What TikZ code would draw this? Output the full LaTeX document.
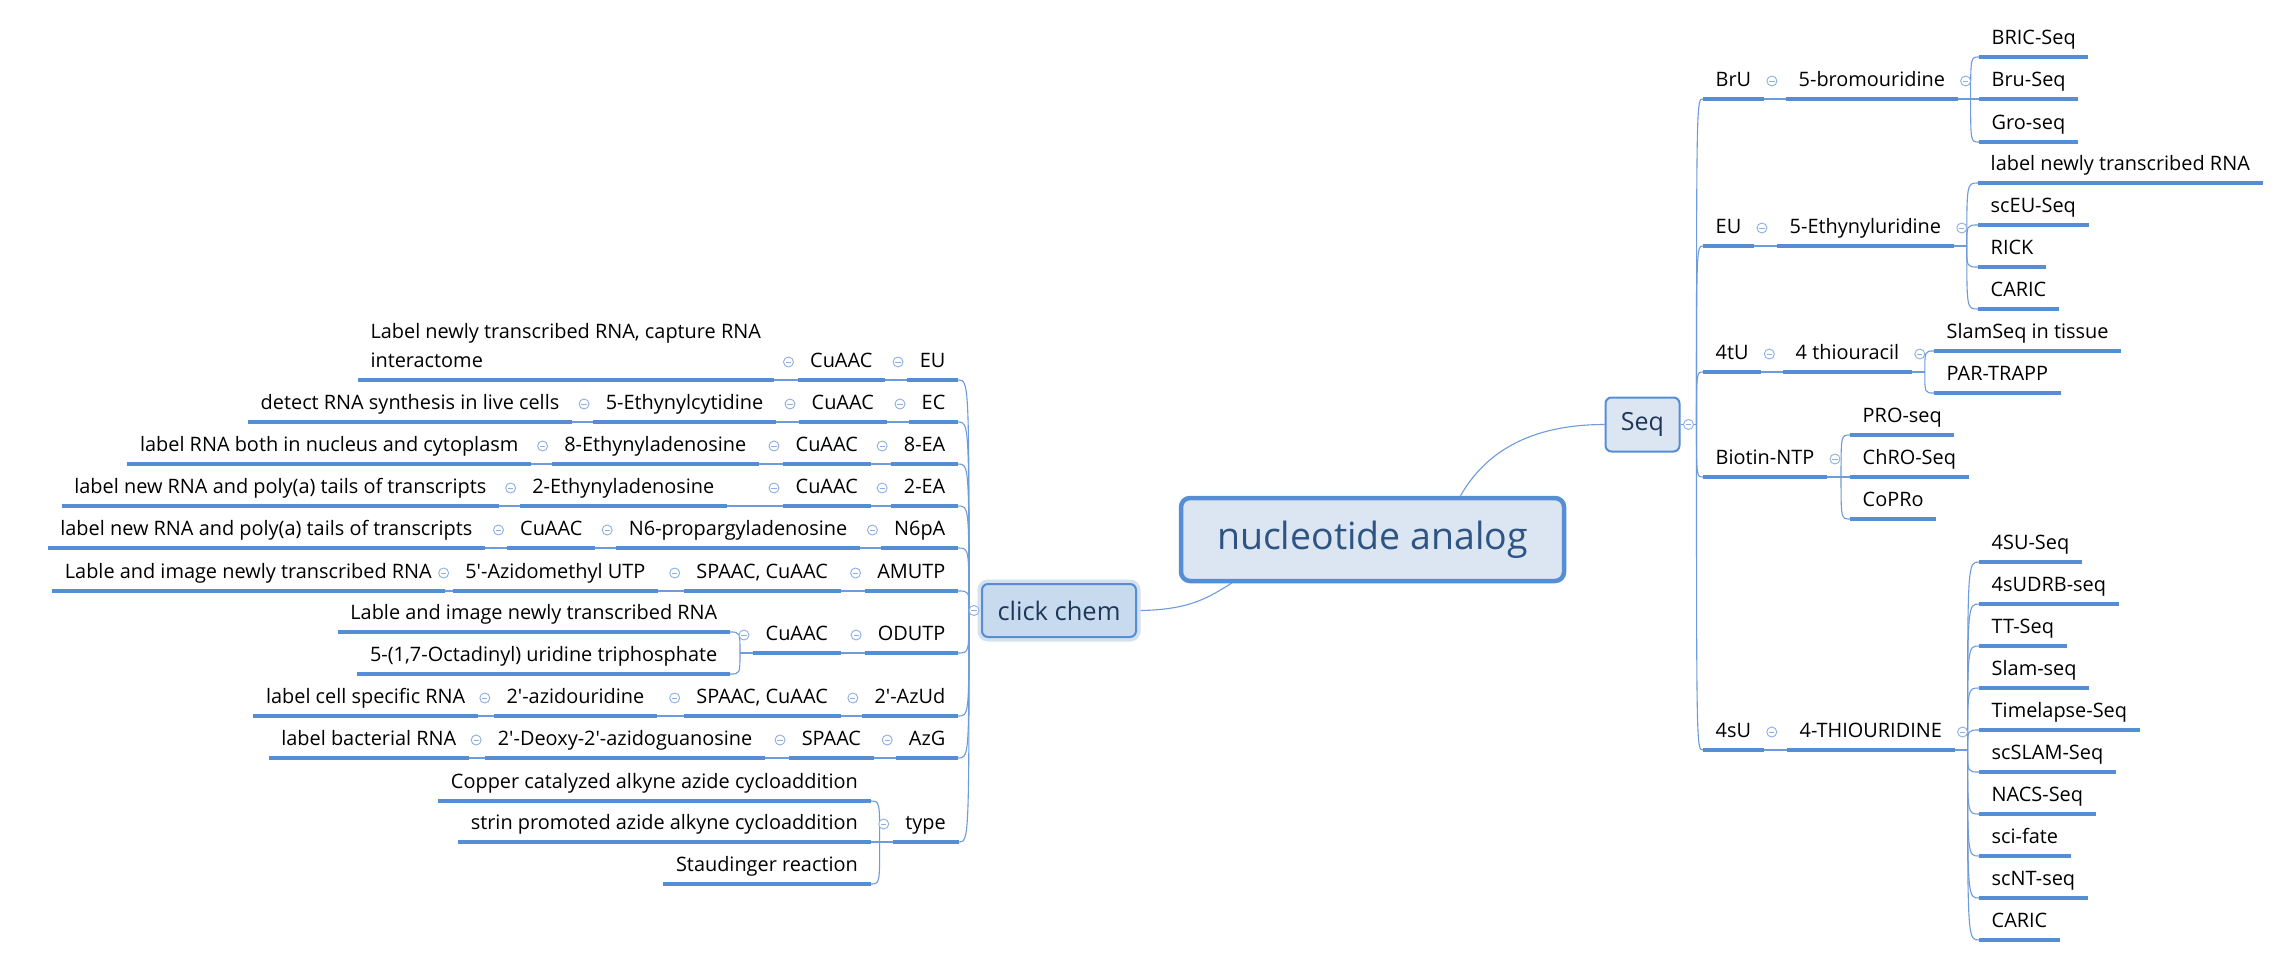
\documentclass[tikz,border=0pt]{standalone}
\usepackage{fontspec}
\setmainfont{Open Sans}
\usetikzlibrary{calc}
\definecolor{ubl}{RGB}{85,142,213}
\definecolor{cbl}{RGB}{110,155,218}
\definecolor{btncol}{RGB}{140,175,225}
\definecolor{cfill}{RGB}{220,230,242}
\definecolor{ccfill}{RGB}{199,218,238}
\definecolor{glow}{RGB}{213,225,238}
\definecolor{ttxt}{RGB}{46,84,132}
\definecolor{seqtxt}{RGB}{31,56,90}
\pgfdeclarelayer{bg}
\pgfsetlayers{bg,main}
\begin{document}
\begin{tikzpicture}[x=1pt,y=-1pt,
  uline/.style={draw=ubl, line width=3.2pt},
  conn/.style={draw=cbl, line width=1.1pt},
  topic/.style={inner xsep=12.5pt, inner ysep=7pt, text height=15pt, text depth=5pt,
    font=\fontsize{19.9}{29}\selectfont, text=black,
    append after command={(\tikzlastnode.south west) edge[uline] (\tikzlastnode.south east)}},
  rt/.style={topic, anchor=south west},
  lt/.style={topic, anchor=south east},
  btn/.style={circle, draw=btncol, fill=white, line width=0.9pt, minimum size=10pt, inner sep=0pt,
    path picture={\draw[btncol, line width=0.9pt] ([xshift=-2.6pt]path picture bounding box.center) -- ([xshift=2.6pt]path picture bounding box.center);}},
  rp/.style={append after command={node[btn] at ([shift={(8,-18)}]\tikzlastnode.south east) {}}},
  lp/.style={append after command={node[btn] at ([shift={(-9,-18)}]\tikzlastnode.south west) {}}}
]
\useasboundingbox (0,0) rectangle (2280,967);
\begin{pgfonlayer}{bg}
\fill[white] (0,0) rectangle (2280,967);
\end{pgfonlayer}

% main topics
\node[draw=ubl, line width=4.5pt, fill=cfill, rounded corners=9pt, minimum width=383pt, minimum height=83pt,
  text=ttxt, font=\fontsize{37.5}{40}\selectfont] (center) at (1372.5,539.5) {nucleotide analog};
\node[draw=ubl, line width=2pt, fill=cfill, rounded corners=6pt, minimum width=74pt, minimum height=54pt,
  text=seqtxt, font=\fontsize{25}{28}\selectfont] (seq) at (1642.5,424.5) {Seq};
\node[draw=ubl, line width=2pt, fill=ccfill, rounded corners=6pt, minimum width=154pt, minimum height=53pt,
  preaction={draw=glow, line width=9pt}, text=seqtxt, font=\fontsize{25.5}{28}\selectfont] (cc) at (1059,610.5) {click chem};
\node[btn] (seqbtn) at ([xshift=8]seq.east) {};
\node[btn] (ccbtn) at ([xshift=-7]cc.west) {};

% ---------- right side ----------
\node[rt,rp] (bru) at (1703,99) {BrU};
\node[rt,rp] (brom) at (1786,99) {5-bromouridine};
\node[rt] (bric) at (1979,57) {BRIC-Seq};
\node[rt] (bruseq) at (1979,99) {Bru-Seq};
\node[rt] (groseq) at (1979,142) {Gro-seq};
\node[rt,rp] (eu) at (1703,246) {EU};
\node[rt,rp] (ethu) at (1777,246) {5-Ethynyluridine};
\node[rt] (lntr) at (1978,183) {label newly transcribed RNA};
\node[rt] (sceu) at (1978,225) {scEU-Seq};
\node[rt] (rick) at (1978,267) {RICK};
\node[rt] (caricA) at (1978,309) {CARIC};
\node[rt,rp] (tu) at (1703,372) {4tU};
\node[rt,rp] (thioura) at (1783,372) {4 thiouracil};
\node[rt] (slamt) at (1934,351) {SlamSeq in tissue};
\node[rt] (partrapp) at (1934,393) {PAR-TRAPP};
\node[rt,rp] (biotin) at (1703,477) {Biotin-NTP};
\node[rt] (proseq) at (1850,435) {PRO-seq};
\node[rt] (chro) at (1850,477) {ChRO-Seq};
\node[rt] (copro) at (1850,519) {CoPRo};
\node[rt,rp] (su) at (1703,750) {4sU};
\node[rt,rp] (thiour) at (1787,750) {4-THIOURIDINE};
\foreach \t [count=\i] in {4SU-Seq, 4sUDRB-seq, TT-Seq, Slam-seq, Timelapse-Seq, scSLAM-Seq, NACS-Seq, sci-fate, scNT-seq, CARIC}
  \node[rt] (s\i) at (1979,520+42*\i) {\t};

% ---------- left side ----------
\node[lt,lp] (l1) at (958,380) {EU};
\node[lt,lp] (l1a) at (885,380) {CuAAC};
\node[lt,align=left] (l1b) at (773.6,380) {Label newly transcribed RNA, capture RNA\\interactome};

\node[lt,lp] (l2) at (958,422) {EC};
\node[lt,lp] (l2a) at (886.5,422) {CuAAC};
\node[lt,lp] (l2b) at (776,422) {5-Ethynylcytidine};
\node[lt] (l2c) at (572,422) {detect RNA synthesis in live cells};

\node[lt,lp] (l3) at (958,464) {8-EA};
\node[lt,lp] (l3a) at (870.5,464) {CuAAC};
\node[lt,lp] (l3b) at (759,464) {8-Ethynyladenosine};
\node[lt] (l3c) at (531,464) {label RNA both in nucleus and cytoplasm};

\node[lt,lp] (l4) at (958,506) {2-EA};
\node[lt,lp] (l4a) at (870.5,506) {CuAAC\hspace{32pt}};
\node[lt,lp] (l4b) at (727,506) {2-Ethynyladenosine};
\node[lt] (l4c) at (499,506) {label new RNA and poly(a) tails of transcripts};

\node[lt,lp] (l5) at (958,548) {N6pA};
\node[lt,lp] (l5a) at (860,548) {N6-propargyladenosine};
\node[lt,lp] (l5b) at (595,548) {CuAAC};
\node[lt] (l5c) at (485,548) {label new RNA and poly(a) tails of transcripts};

\node[lt,lp] (l6) at (958,591) {AMUTP};
\node[lt,lp] (l6a) at (840.5,591) {SPAAC, CuAAC};
\node[lt,lp] (l6b) at (658,591) {5\textquotesingle-Azidomethyl UTP};
\node[lt] (l6c) at (444.5,591) {Lable and image newly transcribed RNA};

\node[lt,lp] (l7) at (958,653) {ODUTP};
\node[lt,lp] (l7a) at (840.5,653) {CuAAC};
\node[lt] (l7b) at (730,632) {Lable and image newly transcribed RNA};
\node[lt] (l7c) at (730,674) {5-(1,7-Octadinyl) uridine triphosphate};

\node[lt,lp] (l8) at (958,716) {2\textquotesingle-AzUd};
\node[lt,lp] (l8a) at (840.5,716) {SPAAC, CuAAC};
\node[lt,lp] (l8b) at (657,716) {2\textquotesingle-azidouridine};
\node[lt] (l8c) at (478,716) {label cell specific RNA};

\node[lt,lp] (l9) at (958,758) {AzG};
\node[lt,lp] (l9a) at (873.7,758) {SPAAC};
\node[lt,lp] (l9b) at (765,758) {2\textquotesingle-Deoxy-2\textquotesingle-azidoguanosine};
\node[lt] (l9c) at (469,758) {label bacterial RNA};

\node[lt,lp] (l10) at (958.5,842) {type};
\node[lt] (t1) at (870.5,801) {Copper catalyzed alkyne azide cycloaddition};
\node[lt] (t2) at (870.5,842) {strin promoted azide alkyne cycloaddition};
\node[lt] (t3) at (870.5,884) {Staudinger reaction};

% ---------- connectors ----------
\begin{pgfonlayer}{bg}
\draw[conn] (seq.west) .. controls +(-85,0) and +(20,-35) .. ($(center.north)+(88,0)$);
\draw[conn] (cc.east) .. controls +(55,0) and +(-20,12) .. ($(center.south)+(-141,0)$);

\draw[conn] (seq.east) -- ++(16,0) coordinate (jseq);
\foreach \c in {bru,eu,tu,biotin,su}
  \draw[conn] (jseq) .. controls (jseq |- \c.south west) .. (\c.south west);
\draw[conn] (bru.south east) -- (brom.south west);
\draw[conn] (eu.south east) -- (ethu.south west);
\draw[conn] (tu.south east) -- (thioura.south west);
\draw[conn] (su.south east) -- (thiour.south west);
\draw[conn] (brom.south east) -- ++(13,0) coordinate (jb);
\foreach \c in {bric,bruseq,groseq}
  \draw[conn] (jb) .. controls (jb |- \c.south west) .. (\c.south west);
\draw[conn] (ethu.south east) -- ++(13,0) coordinate (je);
\foreach \c in {lntr,sceu,rick,caricA}
  \draw[conn] (je) .. controls (je |- \c.south west) .. (\c.south west);
\draw[conn] (thioura.south east) -- ++(13,0) coordinate (jt);
\foreach \c in {slamt,partrapp}
  \draw[conn] (jt) .. controls (jt |- \c.south west) .. (\c.south west);
\draw[conn] (biotin.south east) -- ++(14,0) coordinate (jbi);
\foreach \c in {proseq,chro,copro}
  \draw[conn] (jbi) .. controls (jbi |- \c.south west) .. (\c.south west);
\draw[conn] (thiour.south east) -- ++(13,0) coordinate (js);
\foreach \i in {1,...,10}
  \draw[conn] (js) .. controls (js |- s\i.south west) .. (s\i.south west);

\draw[conn] (cc.west) -- ++(-12,0) coordinate (jcc);
\foreach \c in {l1,l2,l3,l4,l5,l6,l7,l8,l9,l10}
  \draw[conn] (jcc) .. controls (jcc |- \c.south east) .. (\c.south east);
\draw[conn] (l1.south west) -- (l1a.south east);
\draw[conn] (l1a.south west) -- (l1b.south east);
\draw[conn] (l2.south west) -- (l2a.south east);
\draw[conn] (l2a.south west) -- (l2b.south east);
\draw[conn] (l2b.south west) -- (l2c.south east);
\draw[conn] (l3.south west) -- (l3a.south east);
\draw[conn] (l3a.south west) -- (l3b.south east);
\draw[conn] (l3b.south west) -- (l3c.south east);
\draw[conn] (l4.south west) -- (l4a.south east);
\draw[conn] (l4a.south west) -- (l4b.south east);
\draw[conn] (l4b.south west) -- (l4c.south east);
\draw[conn] (l5.south west) -- (l5a.south east);
\draw[conn] (l5a.south west) -- (l5b.south east);
\draw[conn] (l5b.south west) -- (l5c.south east);
\draw[conn] (l6.south west) -- (l6a.south east);
\draw[conn] (l6a.south west) -- (l6b.south east);
\draw[conn] (l6b.south west) -- (l6c.south east);
\draw[conn] (l7.south west) -- (l7a.south east);
\draw[conn] (l7a.south west) -- ++(-13,0) coordinate (j7);
\foreach \c in {l7b,l7c}
  \draw[conn] (j7) .. controls (j7 |- \c.south east) .. (\c.south east);
\draw[conn] (l8.south west) -- (l8a.south east);
\draw[conn] (l8a.south west) -- (l8b.south east);
\draw[conn] (l8b.south west) -- (l8c.south east);
\draw[conn] (l9.south west) -- (l9a.south east);
\draw[conn] (l9a.south west) -- (l9b.south east);
\draw[conn] (l9b.south west) -- (l9c.south east);
\draw[conn] (l10.south west) -- ++(-13,0) coordinate (jty);
\foreach \c in {t1,t2,t3}
  \draw[conn] (jty) .. controls (jty |- \c.south east) .. (\c.south east);
\end{pgfonlayer}
\end{tikzpicture}
\end{document}
